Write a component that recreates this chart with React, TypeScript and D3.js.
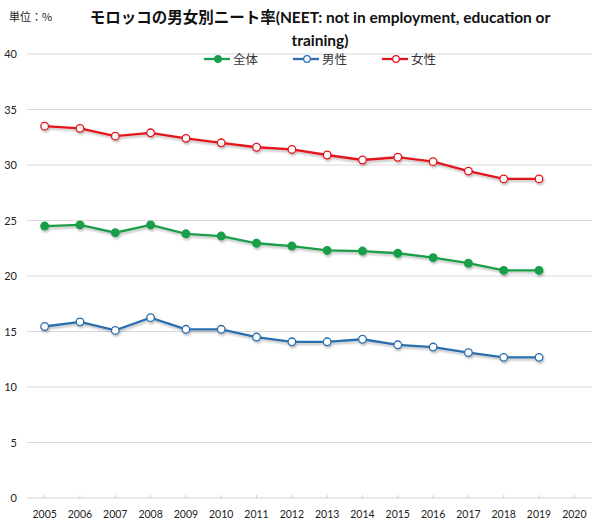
import React from "react";
import * as d3 from "d3";

const years = ["2005","2006","2007","2008","2009","2010","2011","2012","2013","2014","2015","2016","2017","2018","2019","2020"];
const total = [24.5, 24.6, 23.9, 24.6, 23.8, 23.6, 22.95, 22.7, 22.3, 22.25, 22.05, 21.65, 21.15, 20.5, 20.5];
const male = [15.45, 15.87, 15.1, 16.25, 15.2, 15.2, 14.5, 14.07, 14.07, 14.3, 13.8, 13.6, 13.1, 12.67, 12.67];
const female = [33.5, 33.3, 32.6, 32.9, 32.4, 32.0, 31.6, 31.4, 30.9, 30.45, 30.7, 30.3, 29.45, 28.75, 28.75];
const yTicks = [0, 5, 10, 15, 20, 25, 30, 35, 40];

const seriesList = [
  { name: "全体", values: total, color: "#1a9e4a", filled: true },
  { name: "男性", values: male, color: "#2a6ead", filled: false },
  { name: "女性", values: female, color: "#e3141c", filled: false },
];

const W = 609, H = 528;
const L = 27, R = 592, T = 54, B = 498;
const latin = "Lato, 'Noto Sans CJK JP', sans-serif";

export default function App() {
  const x = d3.scaleBand<string>().domain(years).range([L, R]);
  const cx = (i: number) => (x(years[i]) as number) + x.bandwidth() / 2;
  const y = d3.scaleLinear().domain([0, 40]).range([B, T]);
  const line = d3.line<number>().x((_, i) => cx(i)).y((d) => y(d));
  const legendX = [204, 293, 382];

  return (
    <svg width={W} height={H} style={{ position: "absolute", left: 0, top: 0, background: "#fff" }}>
      <defs>
        <filter id="sh" x="-5%" y="-20%" width="110%" height="150%">
          <feDropShadow dx="1" dy="2" stdDeviation="1.2" floodColor="#000" floodOpacity="0.25" />
        </filter>
      </defs>
      {yTicks.map((t) => (
        <g key={t}>
          {t > 0 && <line x1={L} x2={R} y1={y(t)} y2={y(t)} stroke="#d9d9d9" strokeWidth={1} />}
          <text x={17} y={y(t) + 4} textAnchor="end" fontSize={11} fontFamily={latin} fill="#222">{t}</text>
        </g>
      ))}
      <line x1={L} x2={R} y1={B} y2={B} stroke="#d0d0d0" strokeWidth={1} />
      {years.map((yr, i) => (
        <g key={yr}>
          <line x1={cx(i)} x2={cx(i)} y1={B - 3} y2={B} stroke="#d0d0d0" />
          <text x={cx(i)} y={B + 20} textAnchor="middle" fontSize={10.5} fontFamily={latin} fill="#222">{yr}</text>
        </g>
      ))}
      {seriesList.map((s) => (
        <g key={s.name} filter="url(#sh)">
          <path d={line(s.values) || ""} fill="none" stroke={s.color} strokeWidth={2.3} />
          {s.values.map((v, i) => (
            <circle key={i} cx={cx(i)} cy={y(v)} r={3.8} fill={s.filled ? s.color : "#fff"} stroke={s.color} strokeWidth={1.3} />
          ))}
        </g>
      ))}
      {seriesList.map((s, k) => (
        <g key={s.name} transform={`translate(${legendX[k]},59)`}>
          <line x1={0} x2={26} y1={0} y2={0} stroke={s.color} strokeWidth={2.3} />
          <circle cx={14} cy={0} r={3.3} fill={s.filled ? s.color : "#fff"} stroke={s.color} strokeWidth={1.2} />
          <text x={29} y={4.5} fontSize={12.5} fontFamily="'Noto Sans CJK JP', sans-serif" fill="#333">{s.name}</text>
        </g>
      ))}
      <text x={9} y={21} fontSize={11} fontFamily="'Noto Sans CJK JP', sans-serif" fill="#222">単位：%</text>
      <text x={320} y={23} textAnchor="middle" fontSize={15.5} fontWeight="bold" fontFamily={latin} fill="#111">モロッコの男女別ニート率(NEET: not in employment, education or</text>
      <text x={320} y={46} textAnchor="middle" fontSize={15.5} fontWeight="bold" fontFamily={latin} fill="#111">training)</text>
    </svg>
  );
}
